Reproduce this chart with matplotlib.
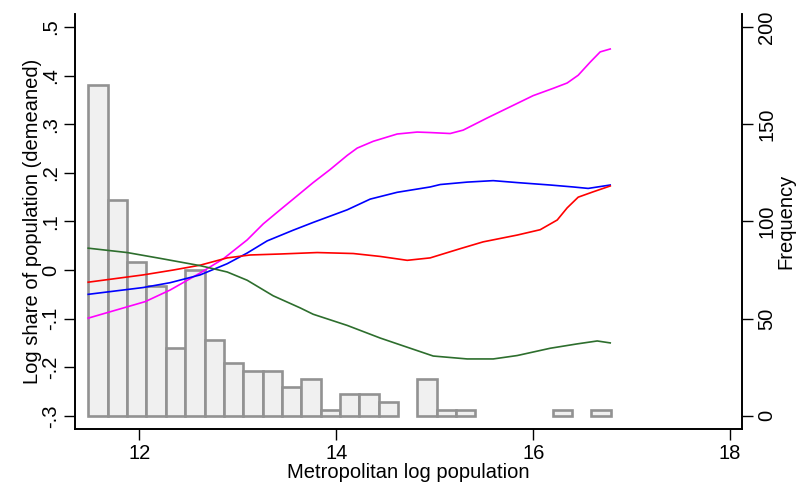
import numpy as np
import matplotlib
matplotlib.use('Agg')
import matplotlib.pyplot as plt

plt.rcParams['font.family'] = ['Liberation Sans', 'DejaVu Sans']

# histogram of metro log population (bin width ~0.196, starting at 11.485)
bin_start = 11.485
bin_width = 0.1963
freq = [170, 111, 79, 67, 35, 75, 39, 27, 23, 23, 15, 19, 3, 11, 11, 7,
        0, 19, 3, 3, 0, 0, 0, 0, 3, 0, 3]

# smoothed log shares (demeaned), one curve per group
x_mag = [11.482, 12.061, 12.315, 12.619, 12.853, 13.096, 13.259, 13.431, 13.563,
         13.766, 13.939, 14.112, 14.213, 14.376, 14.619, 14.822, 14.954, 15.157,
         15.289, 15.533, 15.797, 16.0, 16.203, 16.345, 16.457, 16.579, 16.68, 16.782]
y_mag = [-0.099, -0.065, -0.041, -0.006, 0.023, 0.062, 0.095, 0.124, 0.146,
         0.180, 0.207, 0.236, 0.251, 0.265, 0.280, 0.284, 0.283, 0.281,
         0.288, 0.313, 0.339, 0.359, 0.374, 0.385, 0.401, 0.428, 0.449, 0.455]

x_blue = [11.482, 12.041, 12.315, 12.619, 12.893, 13.096, 13.299, 13.563, 13.766,
          14.112, 14.345, 14.619, 14.954, 15.056, 15.33, 15.594, 15.838, 16.173,
          16.406, 16.558, 16.782]
y_blue = [-0.050, -0.036, -0.026, -0.010, 0.013, 0.035, 0.060, 0.082, 0.098,
          0.124, 0.146, 0.160, 0.171, 0.176, 0.181, 0.184, 0.180, 0.175,
          0.171, 0.168, 0.175]

x_red = [11.482, 12.041, 12.345, 12.619, 12.893, 13.127, 13.431, 13.807, 14.173,
         14.447, 14.721, 14.954, 15.259, 15.492, 15.838, 16.071, 16.244, 16.345,
         16.457, 16.609, 16.782]
y_red = [-0.025, -0.010, 0.0, 0.010, 0.025, 0.031, 0.033, 0.036, 0.034,
         0.028, 0.020, 0.025, 0.044, 0.058, 0.072, 0.083, 0.103, 0.128,
         0.150, 0.161, 0.173]

x_green = [11.482, 11.878, 12.213, 12.619, 12.893, 13.096, 13.36, 13.635, 13.766,
           14.112, 14.447, 14.65, 14.985, 15.33, 15.594, 15.838, 16.173, 16.447,
           16.65, 16.782]
y_green = [0.045, 0.036, 0.024, 0.009, -0.004, -0.021, -0.053, -0.078, -0.091,
           -0.114, -0.140, -0.154, -0.177, -0.183, -0.183, -0.176, -0.161, -0.152,
           -0.146, -0.150]

left_ticks = [-0.3, -0.2, -0.1, 0, 0.1, 0.2, 0.3, 0.4, 0.5]
left_labels = ['-.3', '-.2', '-.1', '0', '.1', '.2', '.3', '.4', '.5']
right_ticks = [0, 50, 100, 150, 200]
x_ticks = [12, 14, 16, 18]

fig = plt.figure(figsize=(8, 4.83), dpi=100)
ax = fig.add_axes([0.094, 0.112, 0.8335, 0.859])
ax2 = ax.twinx()

# bars on the frequency axis, drawn underneath the curves
edges = bin_start + bin_width * np.arange(len(freq))
for left, h in zip(edges, freq):
    if h > 0:
        ax2.bar(left, h, width=bin_width, align='edge', color='#f0f0f0',
                edgecolor='#929292', linewidth=1.9)

ax.set_zorder(ax2.get_zorder() + 1)
ax.patch.set_visible(False)

ax.plot(x_mag, y_mag, color='#ff00ff', lw=1.2)
ax.plot(x_blue, y_blue, color='#0000ff', lw=1.2)
ax.plot(x_red, y_red, color='#ff0000', lw=1.2)
ax.plot(x_green, y_green, color='#2d6e2d', lw=1.2)

ax.set_xlim(11.35, 18.12)
ax.set_ylim(-0.327, 0.527)
ax2.set_ylim(-6.75, 206.75)

fs = 14.5
ax.set_xticks(x_ticks)
ax.set_xticklabels([str(t) for t in x_ticks], fontsize=fs)
ax.set_yticks(left_ticks)
ax.set_yticklabels(left_labels, fontsize=fs, rotation=90, va='center')
ax2.set_yticks(right_ticks)
ax2.set_yticklabels([str(t) for t in right_ticks], fontsize=fs, rotation=90, va='center')

for a in (ax, ax2):
    a.tick_params(direction='out', length=8, width=1, colors='black', pad=3)
    a.spines['top'].set_visible(False)
    for s in ('left', 'right', 'bottom'):
        a.spines[s].set_linewidth(1.2)

ax.set_xlabel('Metropolitan log population', fontsize=fs, labelpad=0)
ax.set_ylabel('Log share of population (demeaned)', fontsize=fs, labelpad=-1)
ax2.set_ylabel('Frequency', fontsize=fs, labelpad=0)

fig.savefig('out.png', dpi=100)
